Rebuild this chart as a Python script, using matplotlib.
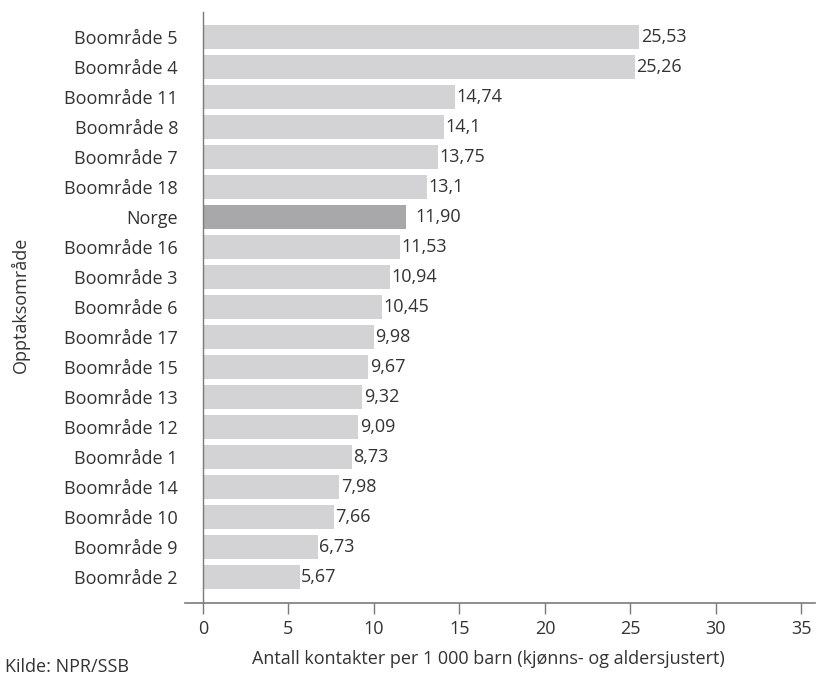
import matplotlib
matplotlib.use("Agg")
import matplotlib.pyplot as plt

categories = ["Boområde 5", "Boområde 4", "Boområde 11", "Boområde 8", "Boområde 7",
              "Boområde 18", "Norge", "Boområde 16", "Boområde 3", "Boområde 6",
              "Boområde 17", "Boområde 15", "Boområde 13", "Boområde 12", "Boområde 1",
              "Boområde 14", "Boområde 10", "Boområde 9", "Boområde 2"]
values = [25.53, 25.26, 14.74, 14.1, 13.75, 13.1, 11.90, 11.53, 10.94, 10.45,
          9.98, 9.67, 9.32, 9.09, 8.73, 7.98, 7.66, 6.73, 5.67]
value_labels = ["25,53", "25,26", "14,74", "14,1", "13,75", "13,1", "11,90", "11,53", "10,94", "10,45",
                "9,98", "9,67", "9,32", "9,09", "8,73", "7,98", "7,66", "6,73", "5,67"]
x_ticks = [0, 5, 10, 15, 20, 25, 30, 35]

plt.rcParams['font.family'] = ['Open Sans', 'DejaVu Sans']
text_color = "#333333"
spine_color = "#7a7a7a"
fs = 13

fig = plt.figure(figsize=(8.17, 6.77), dpi=100)
ax = fig.add_axes([185/817, (677-603)/677, (815-185)/817, (603-12)/677])

for s in ["top", "right"]:
    ax.spines[s].set_visible(False)
ax.spines["left"].set_position(("data", 0))
ax.spines["left"].set_color(spine_color)
ax.spines["bottom"].set_color(spine_color)
ax.spines["left"].set_linewidth(1)
ax.spines["bottom"].set_linewidth(1.2)

colors = ["#a8a8ab" if c == "Norge" else "#d3d3d5" for c in categories]
y = list(range(len(categories)))
ax.barh(y, values, height=0.8, color=colors)

for yi, v, lab, c in zip(y, values, value_labels, categories):
    off = 0.55 if c == "Norge" else 0.08
    ax.text(v + off, yi, lab, va="center", ha="left", fontsize=fs, color=text_color)

ax.set_xlim(-1.05, 35.8)
ax.set_ylim(18.87, -0.83)
ax.set_yticks(y)
ax.set_yticklabels(categories)
ax.tick_params(axis="y", length=0, pad=18, labelsize=fs, labelcolor=text_color)
ax.set_xticks(x_ticks)
ax.set_xticklabels([str(t) for t in x_ticks])
ax.tick_params(axis="x", direction="out", length=8, width=1, color=spine_color, pad=4,
               labelsize=fs, labelcolor=text_color)

ax.set_xlabel("Antall kontakter per 1 000 barn (kjønns- og aldersjustert)", fontsize=fs,
              color=text_color)
ax.xaxis.set_label_coords((488 - 185) / 630, -(659 - 603) / 591)
ax.xaxis.label.set_va("center")
fig.text(20/817, 1 - 305/677, "Opptaksområde", rotation=90, va="center", ha="center",
         fontsize=fs, color=text_color)
fig.text(5/817, 4.5/677, "Kilde: NPR/SSB", fontsize=fs, color=text_color, ha="left", va="baseline")

fig.savefig("out.png", dpi=100)
